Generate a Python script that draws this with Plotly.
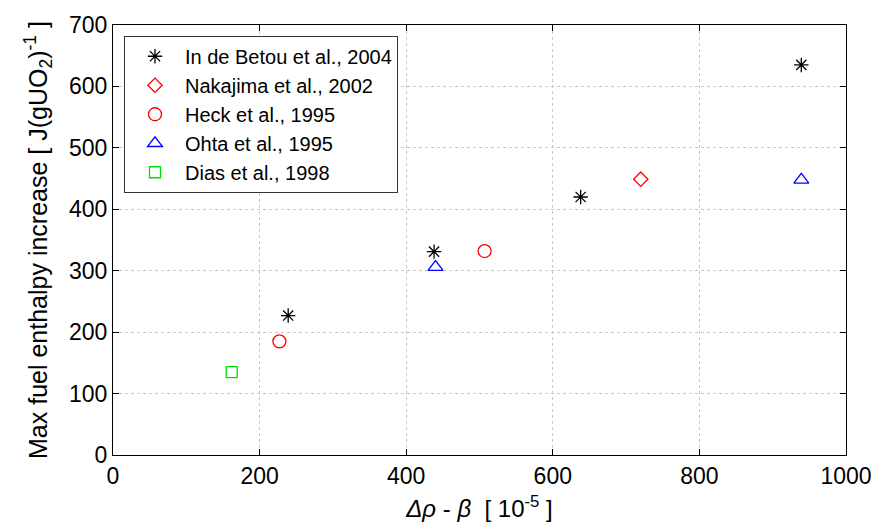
import plotly.graph_objects as go

# Data
betou_x = [239, 438, 638, 939]
betou_y = [227, 331, 420, 635]
nakajima_x = [720]
nakajima_y = [449]
heck_x = [227, 507]
heck_y = [185, 332]
ohta_x = [440, 939]
ohta_y = [306, 448]
dias_x = [162]
dias_y = [135]

series = [
    ("In de Betou et al., 2004", betou_x, betou_y, "asterisk-open", "#000000", 12),
    ("Nakajima et al., 2002", nakajima_x, nakajima_y, "diamond-open", "#ff0000", 11),
    ("Heck et al., 1995", heck_x, heck_y, "circle-open", "#ff0000", 13),
    ("Ohta et al., 1995", ohta_x, ohta_y, "triangle-up-open", "#0000ff", 13),
    ("Dias et al., 1998", dias_x, dias_y, "square-open", "#00dd00", 11),
]

fig = go.Figure()
for name, xs, ys, sym, col, sz in series:
    fig.add_trace(go.Scatter(
        x=xs, y=ys, mode="markers", name=name,
        marker=dict(symbol=sym, size=sz, color=col, line=dict(color=col, width=1.3)),
    ))

font_family = "Liberation Sans, Arial, sans-serif"
axis_common = dict(
    showline=True, linecolor="#000000", linewidth=1.2, mirror="ticks",
    ticks="inside", ticklen=6, tickwidth=1.2, tickcolor="#000000",
    showgrid=True, gridcolor="#c8c8c8", griddash="dot", gridwidth=1,
    zeroline=False,
    tickfont=dict(family=font_family, size=23, color="#000000"),
)

fig.update_layout(
    width=884, height=531,
    margin=dict(l=113, r=32, t=23, b=76),
    paper_bgcolor="white", plot_bgcolor="white",
    font=dict(family=font_family, color="#000000"),
    showlegend=True,
    legend=dict(
        x=0.015, y=0.975, xanchor="left", yanchor="top",
        bgcolor="white", bordercolor="#333333", borderwidth=1,
        font=dict(family=font_family, size=20, color="#000000"),
        tracegroupgap=0, itemwidth=50,
    ),
    xaxis=dict(
        range=[0, 1000], tickvals=[0, 200, 400, 600, 800, 1000],
        title=dict(text="<i>\u0394\u03c1</i> - <i>\u03b2</i>\u00a0\u00a0[ 10<sup>-5</sup> ]",
                   font=dict(family=font_family, size=24), standoff=12),
        **axis_common,
    ),
    yaxis=dict(
        range=[0, 700], tickvals=[0, 100, 200, 300, 400, 500, 600, 700],
        title=dict(text="Max fuel enthalpy increase [ J(gUO<sub>2</sub>)<sup>-1</sup> ]",
                   font=dict(family=font_family, size=25), standoff=14),
        **axis_common,
    ),
)

fig.write_html("out.html")
